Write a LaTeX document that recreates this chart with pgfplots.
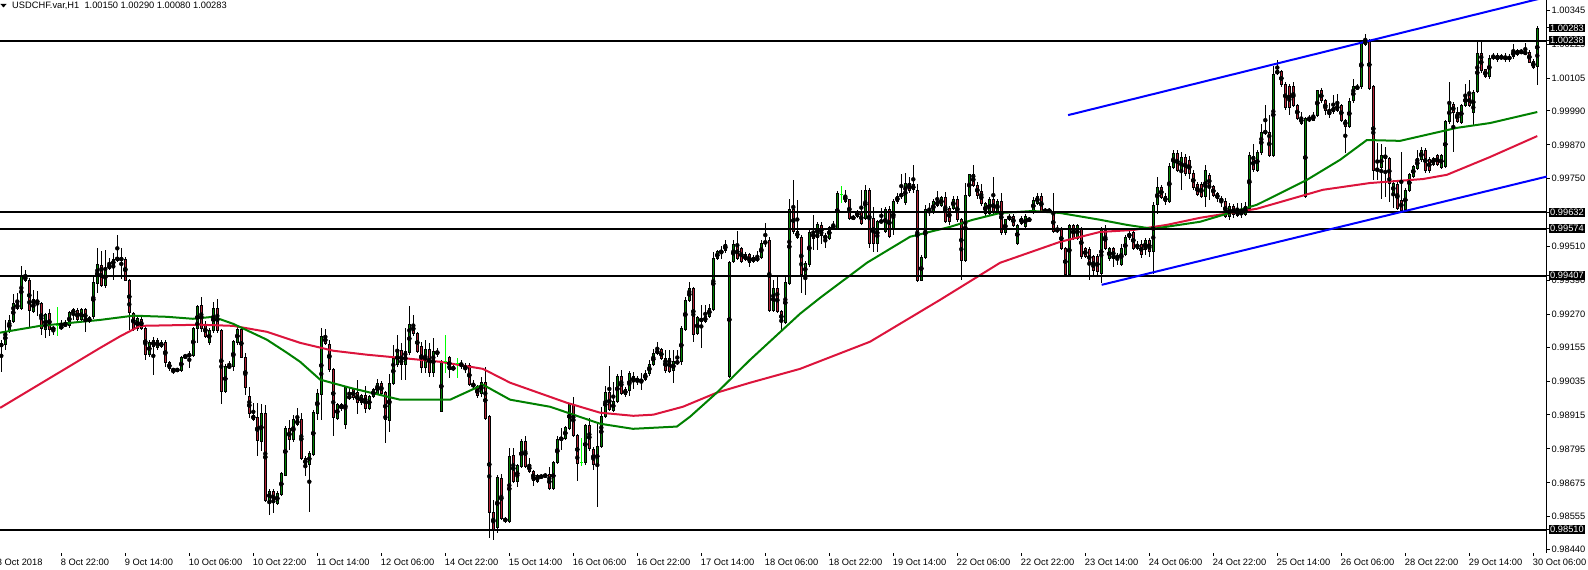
\documentclass[border=0pt]{standalone}
\usepackage{fontspec}
\setmainfont{Liberation Sans}
\usepackage{pgfplots}
\usepackage{pgfplotstable}
\pgfplotsset{compat=1.18}

\definecolor{bull}{RGB}{0,128,0}
\definecolor{bear}{RGB}{178,34,52}
\definecolor{magreen}{RGB}{0,128,0}
\definecolor{mared}{RGB}{220,20,60}
\definecolor{doji}{RGB}{0,255,0}

% USDCHF H1 candles: bar index, open, high, low, close
\pgfplotstableread{
i o h l c
1 0.99158 0.99181 0.99069 0.99167
2 0.99163 0.99252 0.99146 0.99211
3 0.99213 0.99270 0.99205 0.99248
4 0.99246 0.99344 0.99240 0.99308
5 0.99293 0.99348 0.99287 0.99308
6 0.99293 0.99443 0.99287 0.99407
7 0.99407 0.99428 0.99387 0.99393
8 0.99393 0.99399 0.99228 0.99285
9 0.99281 0.99355 0.99275 0.99322
10 0.99322 0.99355 0.99264 0.99313
11 0.99311 0.99317 0.99199 0.99222
12 0.99217 0.99275 0.99187 0.99270
13 0.99273 0.99290 0.99195 0.99217
14 0.99219 0.99231 0.99199 0.99222
15 0.99231 0.99297 0.99193 0.99231
16 0.99219 0.99252 0.99217 0.99231
17 0.99231 0.99250 0.99225 0.99238
18 0.99231 0.99285 0.99225 0.99278
19 0.99273 0.99293 0.99252 0.99287
20 0.99285 0.99293 0.99246 0.99252
21 0.99252 0.99293 0.99246 0.99287
22 0.99287 0.99293 0.99207 0.99246
23 0.99246 0.99266 0.99240 0.99261
24 0.99261 0.99405 0.99255 0.99384
25 0.99381 0.99505 0.99346 0.99450
26 0.99446 0.99493 0.99366 0.99372
27 0.99372 0.99499 0.99364 0.99434
28 0.99434 0.99470 0.99430 0.99446
29 0.99446 0.99487 0.99393 0.99464
30 0.99464 0.99552 0.99458 0.99473
31 0.99470 0.99505 0.99395 0.99464
32 0.99466 0.99475 0.99387 0.99391
33 0.99391 0.99395 0.99217 0.99278
34 0.99275 0.99281 0.99213 0.99222
35 0.99222 0.99264 0.99213 0.99258
36 0.99254 0.99264 0.99217 0.99222
37 0.99222 0.99228 0.99111 0.99128
38 0.99128 0.99181 0.99122 0.99170
39 0.99179 0.99193 0.99058 0.99160
40 0.99155 0.99187 0.99146 0.99179
41 0.99158 0.99181 0.99152 0.99170
42 0.99174 0.99181 0.99087 0.99101
43 0.99101 0.99105 0.99073 0.99078
44 0.99075 0.99081 0.99061 0.99073
45 0.99073 0.99081 0.99067 0.99077
46 0.99073 0.99125 0.99066 0.99120
47 0.99120 0.99130 0.99116 0.99125
48 0.99125 0.99140 0.99081 0.99128
49 0.99125 0.99228 0.99120 0.99222
50 0.99222 0.99305 0.99172 0.99299
51 0.99301 0.99334 0.99210 0.99222
52 0.99238 0.99246 0.99187 0.99193
53 0.99172 0.99222 0.99164 0.99214
54 0.99214 0.99317 0.99207 0.99293
55 0.99293 0.99325 0.99207 0.99213
56 0.99213 0.99219 0.98955 0.98999
57 0.98999 0.99095 0.98993 0.99089
58 0.99089 0.99105 0.99080 0.99085
59 0.99087 0.99181 0.99073 0.99175
60 0.99172 0.99225 0.99164 0.99219
61 0.99217 0.99222 0.99116 0.99120
62 0.99120 0.99136 0.98987 0.99011
63 0.98979 0.99016 0.98905 0.98920
64 0.98916 0.98958 0.98895 0.98901
65 0.98908 0.98958 0.98769 0.98826
66 0.98822 0.98955 0.98787 0.98920
67 0.98920 0.98951 0.98607 0.98614
68 0.98614 0.98652 0.98563 0.98646
69 0.98646 0.98652 0.98569 0.98605
70 0.98605 0.98646 0.98596 0.98638
71 0.98634 0.98714 0.98628 0.98708
72 0.98704 0.98875 0.98699 0.98869
73 0.98869 0.98899 0.98793 0.98828
74 0.98828 0.98916 0.98822 0.98901
75 0.98881 0.98940 0.98875 0.98901
76 0.98899 0.98922 0.98757 0.98763
77 0.98763 0.98769 0.98699 0.98740
78 0.98740 0.98787 0.98572 0.98781
79 0.98775 0.98934 0.98769 0.98925
80 0.98922 0.99008 0.98899 0.98991
81 0.98991 0.99222 0.98899 0.99193
82 0.99193 0.99222 0.99163 0.99170
83 0.99167 0.99181 0.99070 0.99078
84 0.99075 0.99081 0.98840 0.98908
85 0.98905 0.98958 0.98899 0.98952
86 0.98952 0.98958 0.98930 0.98937
87 0.98881 0.99016 0.98864 0.99011
88 0.98975 0.99011 0.98970 0.98983
89 0.99005 0.99011 0.98969 0.98975
90 0.98995 0.99042 0.98922 0.98960
91 0.98958 0.98989 0.98952 0.98983
92 0.98983 0.99016 0.98922 0.98939
93 0.98940 0.98987 0.98934 0.98981
94 0.98981 0.99011 0.98975 0.99005
95 0.98993 0.99042 0.98987 0.99026
96 0.99026 0.99036 0.98987 0.98993
97 0.98995 0.99001 0.98816 0.98898
98 0.98898 0.99062 0.98856 0.99028
99 0.99028 0.99163 0.99022 0.99116
100 0.99093 0.99199 0.99087 0.99142
101 0.99142 0.99169 0.99040 0.99093
102 0.99093 0.99222 0.99040 0.99139
103 0.99136 0.99301 0.99128 0.99237
104 0.99237 0.99270 0.99193 0.99204
105 0.99204 0.99210 0.99134 0.99140
106 0.99160 0.99175 0.99063 0.99085
107 0.99085 0.99181 0.99063 0.99146
108 0.99146 0.99170 0.99050 0.99067
109 0.99067 0.99187 0.99051 0.99140
110 0.99140 0.99151 0.99122 0.99132
111 0.98928 0.99110 0.98926 0.99104
112 0.99105 0.99199 0.99063 0.99105
113 0.99119 0.99125 0.99045 0.99077
114 0.99084 0.99092 0.99070 0.99077
115 0.99096 0.99116 0.99045 0.99096
116 0.99096 0.99110 0.99080 0.99089
117 0.99089 0.99098 0.99063 0.99077
118 0.99089 0.99098 0.99016 0.99022
119 0.99025 0.99040 0.99004 0.99016
120 0.99016 0.99022 0.98975 0.98986
121 0.98990 0.99050 0.98981 0.99031
122 0.99031 0.99087 0.98898 0.98904
123 0.98910 0.98916 0.98481 0.98571
124 0.98571 0.98616 0.98475 0.98510
125 0.98516 0.98705 0.98498 0.98693
126 0.98693 0.98708 0.98545 0.98551
127 0.98551 0.98557 0.98534 0.98540
128 0.98540 0.98799 0.98534 0.98771
129 0.98771 0.98799 0.98675 0.98681
130 0.98681 0.98742 0.98663 0.98736
131 0.98734 0.98830 0.98728 0.98822
132 0.98822 0.98840 0.98728 0.98734
133 0.98740 0.98763 0.98710 0.98716
134 0.98716 0.98722 0.98663 0.98684
135 0.98681 0.98706 0.98675 0.98701
136 0.98701 0.98707 0.98687 0.98693
137 0.98699 0.98710 0.98693 0.98701
138 0.98704 0.98730 0.98651 0.98654
139 0.98654 0.98752 0.98648 0.98746
140 0.98746 0.98840 0.98740 0.98828
141 0.98828 0.98871 0.98793 0.98836
142 0.98834 0.98877 0.98828 0.98871
143 0.98869 0.98958 0.98863 0.98952
144 0.98952 0.98979 0.98836 0.98842
145 0.98842 0.98848 0.98681 0.98746
146 0.98746 0.98834 0.98734 0.98746
147 0.98746 0.98883 0.98740 0.98877
148 0.98877 0.98904 0.98789 0.98795
149 0.98795 0.98801 0.98722 0.98740
150 0.98736 0.98887 0.98590 0.98804
151 0.98804 0.98943 0.98798 0.98910
152 0.98910 0.99016 0.98904 0.98995
153 0.98995 0.99087 0.98928 0.98934
154 0.98934 0.99034 0.98928 0.98963
155 0.98963 0.99061 0.98957 0.99052
156 0.99052 0.99075 0.98987 0.98993
157 0.98987 0.99016 0.98981 0.99005
158 0.99001 0.99069 0.98981 0.99061
159 0.99052 0.99069 0.99007 0.99034
160 0.99046 0.99052 0.99022 0.99034
161 0.99034 0.99063 0.99005 0.99040
162 0.99040 0.99075 0.99034 0.99061
163 0.99061 0.99110 0.99052 0.99093
164 0.99093 0.99146 0.99087 0.99132
165 0.99132 0.99172 0.99126 0.99146
166 0.99146 0.99152 0.99110 0.99116
167 0.99116 0.99146 0.99063 0.99073
168 0.99116 0.99146 0.99063 0.99069
169 0.99073 0.99146 0.99028 0.99105
170 0.99105 0.99146 0.99093 0.99099
171 0.99105 0.99230 0.99093 0.99222
172 0.99219 0.99332 0.99213 0.99322
173 0.99320 0.99387 0.99314 0.99363
174 0.99363 0.99369 0.99175 0.99202
175 0.99202 0.99264 0.99196 0.99258
176 0.99258 0.99305 0.99152 0.99246
177 0.99246 0.99305 0.99240 0.99264
178 0.99264 0.99307 0.99258 0.99293
179 0.99290 0.99493 0.99284 0.99469
180 0.99469 0.99499 0.99463 0.99493
181 0.99490 0.99514 0.99469 0.99496
182 0.99496 0.99536 0.99490 0.99520
183 0.99052 0.99460 0.99046 0.99454
184 0.99458 0.99534 0.99452 0.99517
185 0.99517 0.99567 0.99463 0.99469
186 0.99505 0.99511 0.99452 0.99458
187 0.99481 0.99490 0.99458 0.99464
188 0.99481 0.99487 0.99440 0.99454
189 0.99458 0.99480 0.99452 0.99473
190 0.99461 0.99493 0.99455 0.99473
191 0.99473 0.99534 0.99467 0.99522
192 0.99531 0.99593 0.99510 0.99522
193 0.99531 0.99546 0.99281 0.99287
194 0.99287 0.99393 0.99281 0.99363
195 0.99363 0.99410 0.99275 0.99281
196 0.99281 0.99287 0.99210 0.99246
197 0.99242 0.99410 0.99236 0.99384
198 0.99381 0.99681 0.99375 0.99642
199 0.99642 0.99746 0.99558 0.99564
200 0.99564 0.99675 0.99538 0.99544
201 0.99543 0.99552 0.99346 0.99411
202 0.99411 0.99460 0.99340 0.99449
203 0.99449 0.99575 0.99440 0.99560
204 0.99560 0.99624 0.99499 0.99540
205 0.99543 0.99600 0.99499 0.99590
206 0.99587 0.99599 0.99522 0.99552
207 0.99548 0.99560 0.99505 0.99540
208 0.99540 0.99584 0.99534 0.99578
209 0.99577 0.99600 0.99570 0.99584
210 0.99575 0.99708 0.99570 0.99699
211 0.99693 0.99725 0.99664 0.99693
212 0.99693 0.99711 0.99664 0.99670
213 0.99675 0.99680 0.99605 0.99611
214 0.99611 0.99622 0.99605 0.99614
215 0.99617 0.99640 0.99610 0.99634
216 0.99634 0.99711 0.99587 0.99593
217 0.99611 0.99728 0.99605 0.99711
218 0.99711 0.99717 0.99505 0.99522
219 0.99611 0.99652 0.99493 0.99522
220 0.99522 0.99605 0.99493 0.99599
221 0.99599 0.99646 0.99593 0.99601
222 0.99564 0.99650 0.99558 0.99642
223 0.99642 0.99652 0.99540 0.99548
224 0.99575 0.99680 0.99552 0.99670
225 0.99670 0.99700 0.99660 0.99687
226 0.99687 0.99769 0.99680 0.99699
227 0.99666 0.99772 0.99660 0.99734
228 0.99734 0.99758 0.99700 0.99708
229 0.99730 0.99799 0.99700 0.99711
230 0.99711 0.99734 0.99387 0.99393
231 0.99393 0.99481 0.99387 0.99473
232 0.99473 0.99658 0.99469 0.99642
233 0.99642 0.99664 0.99620 0.99631
234 0.99631 0.99680 0.99625 0.99670
235 0.99670 0.99708 0.99650 0.99658
236 0.99658 0.99690 0.99650 0.99685
237 0.99685 0.99702 0.99593 0.99599
238 0.99646 0.99655 0.99587 0.99599
239 0.99646 0.99690 0.99640 0.99678
240 0.99678 0.99690 0.99599 0.99607
241 0.99607 0.99612 0.99393 0.99461
242 0.99461 0.99734 0.99455 0.99693
243 0.99693 0.99769 0.99687 0.99764
244 0.99767 0.99799 0.99720 0.99728
245 0.99728 0.99740 0.99680 0.99693
246 0.99705 0.99734 0.99655 0.99664
247 0.99628 0.99670 0.99617 0.99664
248 0.99628 0.99685 0.99620 0.99678
249 0.99678 0.99758 0.99628 0.99634
250 0.99634 0.99680 0.99628 0.99670
251 0.99670 0.99699 0.99552 0.99560
252 0.99560 0.99611 0.99552 0.99607
253 0.99607 0.99625 0.99600 0.99619
254 0.99619 0.99625 0.99580 0.99587
255 0.99522 0.99590 0.99517 0.99584
256 0.99593 0.99620 0.99587 0.99611
257 0.99581 0.99628 0.99575 0.99617
258 0.99605 0.99615 0.99599 0.99607
259 0.99634 0.99685 0.99625 0.99675
260 0.99664 0.99699 0.99658 0.99687
261 0.99687 0.99699 0.99628 0.99634
262 0.99634 0.99646 0.99628 0.99640
263 0.99640 0.99646 0.99628 0.99634
264 0.99628 0.99699 0.99558 0.99564
265 0.99564 0.99587 0.99558 0.99575
266 0.99575 0.99581 0.99499 0.99505
267 0.99505 0.99510 0.99405 0.99411
268 0.99411 0.99590 0.99405 0.99587
269 0.99587 0.99593 0.99534 0.99540
270 0.99540 0.99593 0.99534 0.99587
271 0.99575 0.99581 0.99469 0.99475
272 0.99505 0.99510 0.99469 0.99475
273 0.99499 0.99510 0.99393 0.99446
274 0.99475 0.99481 0.99405 0.99428
275 0.99475 0.99485 0.99411 0.99422
276 0.99416 0.99581 0.99381 0.99570
277 0.99570 0.99587 0.99499 0.99505
278 0.99469 0.99510 0.99460 0.99505
279 0.99505 0.99510 0.99440 0.99469
280 0.99481 0.99490 0.99446 0.99469
281 0.99446 0.99520 0.99440 0.99505
282 0.99485 0.99552 0.99478 0.99543
283 0.99543 0.99570 0.99534 0.99558
284 0.99560 0.99570 0.99499 0.99505
285 0.99505 0.99530 0.99499 0.99519
286 0.99519 0.99534 0.99470 0.99485
287 0.99499 0.99540 0.99481 0.99534
288 0.99534 0.99540 0.99475 0.99493
289 0.99493 0.99670 0.99416 0.99658
290 0.99658 0.99758 0.99628 0.99720
291 0.99720 0.99730 0.99680 0.99687
292 0.99687 0.99699 0.99658 0.99670
293 0.99670 0.99805 0.99664 0.99793
294 0.99793 0.99852 0.99787 0.99840
295 0.99840 0.99852 0.99775 0.99781
296 0.99781 0.99845 0.99711 0.99824
297 0.99828 0.99840 0.99760 0.99769
298 0.99817 0.99830 0.99750 0.99769
299 0.99769 0.99781 0.99711 0.99720
300 0.99729 0.99740 0.99690 0.99697
301 0.99729 0.99740 0.99681 0.99687
302 0.99687 0.99799 0.99652 0.99779
303 0.99764 0.99770 0.99675 0.99723
304 0.99723 0.99729 0.99687 0.99693
305 0.99697 0.99705 0.99670 0.99681
306 0.99681 0.99690 0.99652 0.99670
307 0.99670 0.99681 0.99611 0.99617
308 0.99617 0.99664 0.99605 0.99652
309 0.99652 0.99660 0.99611 0.99623
310 0.99623 0.99666 0.99617 0.99640
311 0.99630 0.99664 0.99611 0.99626
312 0.99626 0.99670 0.99620 0.99652
313 0.99646 0.99846 0.99640 0.99831
314 0.99829 0.99873 0.99775 0.99781
315 0.99781 0.99852 0.99775 0.99843
316 0.99843 0.99946 0.99837 0.99913
317 0.99913 1.00011 0.99905 0.99917
318 0.99913 0.99976 0.99828 0.99834
319 0.99834 1.00149 0.99828 1.00120
320 1.00132 1.00170 1.00117 1.00123
321 1.00129 1.00135 1.00076 1.00082
322 1.00085 1.00093 0.99995 1.00003
323 1.00076 1.00088 0.99976 1.00003
324 1.00076 1.00093 1.00005 1.00011
325 1.00011 1.00017 0.99958 0.99964
326 0.99946 0.99987 0.99940 0.99967
327 0.99687 0.99970 0.99681 0.99964
328 0.99964 0.99976 0.99952 0.99958
329 0.99958 0.99987 0.99952 0.99976
330 0.99976 1.00064 0.99970 1.00062
331 1.00062 1.00070 1.00017 1.00026
332 1.00026 1.00032 0.99976 0.99991
333 0.99991 1.00017 0.99964 0.99976
334 0.99987 1.00046 0.99981 1.00002
335 1.00011 1.00052 0.99987 0.99993
336 1.00011 1.00017 0.99952 0.99958
337 0.99958 0.99964 0.99843 0.99937
338 0.99937 1.00035 0.99930 1.00026
339 1.00026 1.00105 1.00020 1.00076
340 1.00070 1.00085 1.00064 1.00076
341 1.00076 1.00240 1.00070 1.00229
342 1.00226 1.00264 1.00220 1.00238
343 1.00238 1.00246 1.00064 1.00070
344 1.00076 1.00082 0.99746 0.99779
345 0.99787 0.99876 0.99746 0.99779
346 0.99793 0.99876 0.99681 0.99834
347 0.99834 0.99864 0.99687 0.99823
348 0.99823 0.99829 0.99670 0.99734
349 0.99699 0.99746 0.99646 0.99734
350 0.99729 0.99746 0.99640 0.99646
351 0.99675 0.99846 0.99634 0.99640
352 0.99643 0.99717 0.99634 0.99709
353 0.99709 0.99770 0.99703 0.99764
354 0.99760 0.99799 0.99754 0.99793
355 0.99787 0.99852 0.99781 0.99823
356 0.99819 0.99864 0.99811 0.99850
357 0.99850 0.99858 0.99772 0.99779
358 0.99819 0.99829 0.99772 0.99779
359 0.99802 0.99829 0.99796 0.99823
360 0.99834 0.99840 0.99796 0.99802
361 0.99793 0.99840 0.99787 0.99834
362 0.99793 0.99958 0.99787 0.99952
363 0.99952 1.00093 0.99946 1.00015
364 1.00015 1.00020 0.99846 0.99984
365 0.99984 1.00003 0.99946 0.99952
366 0.99952 1.00017 0.99946 1.00011
367 1.00011 1.00085 1.00005 1.00046
368 1.00046 1.00099 1.00005 1.00011
369 0.99987 1.00064 0.99940 1.00058
370 1.00058 1.00235 1.00052 1.00193
371 1.00193 1.00235 1.00126 1.00132
372 1.00137 1.00140 1.00105 1.00113
373 1.00113 1.00187 1.00105 1.00176
374 1.00176 1.00196 1.00170 1.00187
375 1.00187 1.00193 1.00164 1.00172
376 1.00176 1.00191 1.00170 1.00184
377 1.00184 1.00193 1.00164 1.00172
378 1.00172 1.00191 1.00164 1.00184
379 1.00184 1.00229 1.00176 1.00203
380 1.00203 1.00209 1.00184 1.00191
381 1.00196 1.00209 1.00191 1.00203
382 1.00199 1.00229 1.00187 1.00193
383 1.00199 1.00206 1.00158 1.00164
384 1.00164 1.00176 1.00140 1.00144
385 1.00150 1.00290 1.00080 1.00283
}\candles

\pgfplotsset{
  candle bar/.style 2 args={only marks, mark=none,
    error bars/.cd, y dir=both, y explicit, error mark=none,
    error bar style={line width=#1, draw=#2}},
}

\begin{document}
\begin{tikzpicture}
\begin{axis}[
  name=ax, at={(0,0)}, anchor=south west,
  scale only axis, width=1547pt, height=553pt,
  xmin=0.675, xmax=387.425,
  ymin=0.98427, ymax=1.00382,
  axis x line*=bottom, axis y line*=right,
  axis line style={line width=1pt},
  x axis line style={draw=none},
  tick align=outside, major tick length=3pt,
  tick style={black, line width=1pt},
  every tick label/.append style={font=\fontsize{9.3}{10}\selectfont},
  xtick={0,16,...,384},
  xticklabels={8 Oct 2018, 8 Oct 22:00, 9 Oct 14:00, 10 Oct 06:00, 10 Oct 22:00,
    11 Oct 14:00, 12 Oct 06:00, 14 Oct 22:00, 15 Oct 14:00, 16 Oct 06:00,
    16 Oct 22:00, 17 Oct 14:00, 18 Oct 06:00, 18 Oct 22:00, 19 Oct 14:00,
    22 Oct 06:00, 22 Oct 22:00, 23 Oct 14:00, 24 Oct 06:00, 24 Oct 22:00,
    25 Oct 14:00, 26 Oct 06:00, 28 Oct 22:00, 29 Oct 14:00, 30 Oct 06:00},
  xticklabel style={anchor=north west, inner sep=0pt, xshift=-0.5pt, yshift=-3.3pt},
  ytick={1.00345,1.00225,1.00105,0.99990,0.99870,0.99750,0.99630,0.99510,
    0.99390,0.99270,0.99155,0.99035,0.98915,0.98795,0.98675,0.98555,0.98440},
  yticklabels={1.00345,1.00225,1.00105,0.99990,0.99870,0.99750,0.99630,0.99510,
    0.99390,0.99270,0.99155,0.99035,0.98915,0.98795,0.98675,0.98555,0.98440},
  yticklabel style={anchor=west, inner sep=0pt, xshift=1.5pt},
  extra y ticks={1.00283,1.00238,0.99632,0.99574,0.99407,0.98510},
  extra y tick labels={1.00283,1.00238,0.99632,0.99574,0.99407,0.98510},
  extra y tick style={yticklabel style={fill=black, text=white,
    inner xsep=1.5pt, inner ysep=1.2pt, xshift=-3pt}},
  clip=true,
]
% wicks
\addplot[restrict expr to domain={abs(\thisrow{c}-\thisrow{o})*100000}{0.5:100000},
  candle bar={1pt}{black}]
  table[x=i, y expr={(\thisrow{h}+\thisrow{l})/2},
        y error expr={(\thisrow{h}-\thisrow{l})/2}] {\candles};
% body outlines
\addplot[restrict expr to domain={abs(\thisrow{c}-\thisrow{o})*100000}{0.5:100000},
  candle bar={3pt}{black}]
  table[x=i, y expr={(\thisrow{o}+\thisrow{c})/2},
        y error expr={abs(\thisrow{c}-\thisrow{o})/2+0.0000177}] {\candles};
% bull fills
\addplot[restrict expr to domain={(\thisrow{c}-\thisrow{o})*100000}{0.5:100000},
  candle bar={1pt}{bull}]
  table[x=i, y expr={(\thisrow{o}+\thisrow{c})/2},
        y error expr={max(abs(\thisrow{c}-\thisrow{o})/2-0.0000177,0)}] {\candles};
% bear fills
\addplot[restrict expr to domain={(\thisrow{c}-\thisrow{o})*100000}{-100000:-0.5},
  candle bar={1pt}{bear}]
  table[x=i, y expr={(\thisrow{o}+\thisrow{c})/2},
        y error expr={max(abs(\thisrow{c}-\thisrow{o})/2-0.0000177,0)}] {\candles};
% doji
\addplot[restrict expr to domain={abs(\thisrow{c}-\thisrow{o})*100000}{-1:0.5},
  only marks, mark=-, mark size=1.5pt, mark options={doji, line width=1pt},
  error bars/.cd, y dir=both, y explicit, error mark=none,
  error bar style={draw=doji, line width=1pt}]
  table[x=i, y=o, y error plus expr={\thisrow{h}-\thisrow{o}},
        y error minus expr={\thisrow{o}-\thisrow{l}}] {\candles};

% moving averages
\addplot[mared, line width=2pt] coordinates {
  (0.7,0.98940) (25.7,0.99152) (30.7,0.99193) (35.7,0.99230) (50.7,0.99234)
  (59,0.99230) (67.4,0.99209) (75.7,0.99170) (84,0.99142) (92.4,0.99128)
  (100.7,0.99117) (110.7,0.99103) (121.4,0.99078) (128.2,0.99029)
  (142.4,0.98958) (150.7,0.98923) (159,0.98912) (164,0.98916) (171.4,0.98944)
  (179.9,0.98994) (188.2,0.99029) (200.7,0.99078) (218.2,0.99174)
  (235.7,0.99322) (250.7,0.99453) (265.7,0.99527) (275.7,0.99562)
  (284,0.99569) (292.4,0.99587) (300.7,0.99612) (314.9,0.99644)
  (331.4,0.99711) (343.2,0.99735) (356.4,0.99749) (362.4,0.99764)
  (373.2,0.99827) (385,0.99901)};
\addplot[magreen, line width=2pt] coordinates {
  (0.7,0.99206) (10.7,0.99230) (25.7,0.99251) (34,0.99266) (42.4,0.99262)
  (48.9,0.99255) (54,0.99262) (59,0.99237) (67.4,0.99181) (72.4,0.99135)
  (75.7,0.99103) (80.7,0.99040) (88.2,0.99011) (100.7,0.98969)
  (113.2,0.98969) (121.4,0.99022) (128.2,0.98969) (138.2,0.98944)
  (150.7,0.98884) (158.9,0.98866) (169.9,0.98874) (173.2,0.98909)
  (179.9,0.98994) (188.2,0.99110) (200.7,0.99273) (205.7,0.99329)
  (217.4,0.99453) (228.2,0.99545) (238.2,0.99580) (243.9,0.99605)
  (250.7,0.99629) (258.9,0.99636) (265.7,0.99629) (275.7,0.99605)
  (282.4,0.99587) (288.9,0.99573) (300.7,0.99598) (314.9,0.99658)
  (327.4,0.99746) (335.7,0.99817) (342.4,0.99887) (350.7,0.99884)
  (364.9,0.99930) (373.2,0.99947) (385,0.99986)};

% horizontal levels
\addplot[black, line width=2pt] coordinates {(0.675,1.00238) (387.425,1.00238)};
\addplot[black, line width=2pt] coordinates {(0.675,0.99632) (387.425,0.99632)};
\addplot[black, line width=2pt] coordinates {(0.675,0.99574) (387.425,0.99574)};
\addplot[black, line width=2pt] coordinates {(0.675,0.99407) (387.425,0.99407)};
\addplot[black, line width=2pt] coordinates {(0.675,0.98510) (387.425,0.98510)};

% channel
\addplot[blue, line width=2pt] coordinates {(267.7,0.99975) (387.425,1.00393)};
\addplot[blue, line width=2pt] coordinates {(276.1,0.99375) (387.425,0.99758)};
\end{axis}

% first date label sits left of the visible range
\node[anchor=north west, inner sep=0pt, font=\fontsize{9.3}{10}\selectfont]
  at (-3.2pt,-6.3pt) {8 Oct 2018};
\fill[black] (0.3pt,549pt) -- (6.7pt,549pt) -- (3.5pt,545.7pt) -- cycle;
\node[anchor=west, inner sep=0pt, font=\fontsize{9.3}{10}\selectfont]
  at (12pt,547pt) {USDCHF.var,H1\ \ 1.00150 1.00290 1.00080 1.00283};

\pgfresetboundingbox
\path[use as bounding box] (0,-17pt) rectangle (1588pt,553pt);
\end{tikzpicture}
\end{document}
